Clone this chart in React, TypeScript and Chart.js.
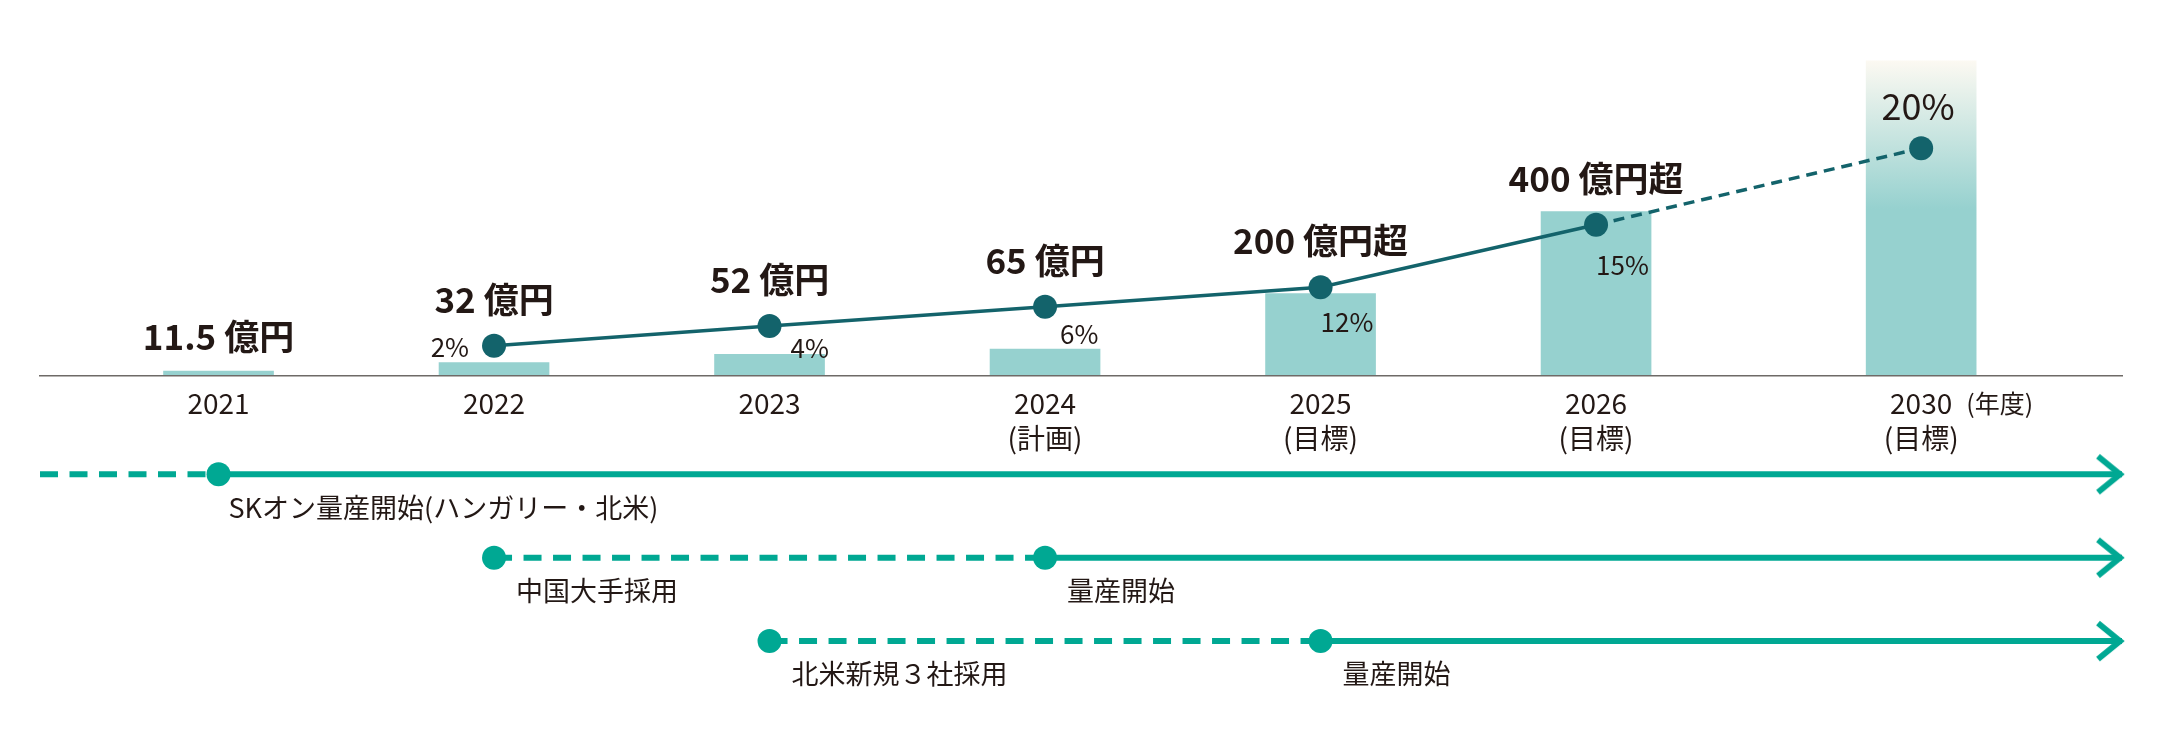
import React, { useEffect, useRef } from 'react';
import { Chart, registerables } from 'chart.js';

Chart.register(...registerables);

// ---------------- data ----------------
const years = [2021, 2022, 2023, 2024, 2025, 2026, 2030];
const yearSubLabels = ['', '', '', '(計画)', '(目標)', '(目標)', '(目標)'];
const yearUnitLabel = '(年度)';

const salesValues = [11.5, 32, 52, 65, 200, 400, 768];
const salesLabels = ['11.5億円', '32億円', '52億円', '65億円', '200億円超', '400億円超', ''];
const salesOpenEnded = [false, false, false, false, false, false, true];

const shareYears = [2022, 2023, 2024, 2025, 2026, 2030];
const shareLabels = ['2%', '4%', '6%', '12%', '15%', '20%'];
// height of the (schematic) share line as drawn, in the value-axis units
const shareLineLevel = [73, 121, 168, 216, 368, 555];
const shareProjected = [false, false, false, false, false, true];

const timelineRows = [1, 2, 3];
const timelineDashFrom: (number | null)[] = [null, 2022, 2023];
const timelineDashLabels = ['', '中国大手採用', '北米新規３社採用'];
const timelineSolidFrom = [2021, 2024, 2025];
const timelineSolidLabels = ['SKオン量産開始(ハンガリー・北米)', '量産開始', '量産開始'];

// ---------------- styles ----------------
const FONT = '"Noto Sans CJK JP", "Noto Sans", sans-serif';
const TEXT = '#231815';
const AXIS = '#6e6a67';
const BAR = '#96d1cf';
const BAR_FADE = '#fcf9f2';
const LINE = '#13636b';
const TL = '#00a893';

// axis with a break after 2026
const BREAK_AFTER = 2026;
const BREAK_SCALE = 0.295;
const slot = (year: number) =>
  year <= BREAK_AFTER ? year - years[0] : BREAK_AFTER - years[0] + (year - BREAK_AFTER) * BREAK_SCALE;
const X_MIN = -0.648;
const X_MAX = 6.909;

const SHARE_LABEL_PLACEMENT = [
  { align: 'right', dx: -25, dy: 1, size: 26 },
  { align: 'left', dx: 21, dy: 22, size: 26 },
  { align: 'left', dx: 15, dy: 27, size: 26 },
  { align: 'left', dx: 0, dy: 35, size: 26 },
  { align: 'left', dx: 0, dy: 40, size: 26 },
  { align: 'center', dx: -3, dy: -42, size: 36 },
];

function makeArrow(): HTMLCanvasElement {
  const c = document.createElement('canvas');
  c.width = 70;
  c.height = 52;
  const g = c.getContext('2d')!;
  g.strokeStyle = TL;
  g.lineWidth = 6;
  g.lineJoin = 'miter';
  g.lineCap = 'butt';
  g.beginPath();
  g.moveTo(33 - 22, 26 - 18);
  g.lineTo(33, 26);
  g.lineTo(33 - 22, 26 + 18);
  g.stroke();
  return c;
}

const annotatePlugin = {
  id: 'annotate',
  afterDatasetsDraw(chart: any) {
    const { ctx } = chart;
    const xs = chart.scales.x;
    const ys = chart.scales.y;
    const yr = chart.scales.yRows;
    const shareMeta = chart.getDatasetMeta(0);
    ctx.save();
    ctx.fillStyle = TEXT;
    ctx.textBaseline = 'middle';

    // sales value labels (number + unit with a small gap)
    ctx.font = `bold 35px ${FONT}`;
    ctx.textAlign = 'left';
    const GAP = 8;
    years.forEach((year, i) => {
      const text = salesLabels[i];
      if (!text) return;
      const m = /^([\d.]+)(.*)$/.exec(text);
      const num = m ? m[1] : text;
      const unit = m ? m[2] : '';
      const wn = ctx.measureText(num).width;
      const wu = ctx.measureText(unit).width;
      const total = wn + (unit ? GAP + wu : 0);
      const px = xs.getPixelForValue(slot(year));
      const si = shareYears.indexOf(year);
      const py = si >= 0 ? shareMeta.data[si].y - 46 : ys.getPixelForValue(salesValues[i]) - 34;
      const x0 = px - total / 2;
      ctx.fillText(num, x0, py);
      if (unit) ctx.fillText(unit, x0 + wn + GAP, py);
    });

    // share labels
    shareLabels.forEach((text, i) => {
      const pt = shareMeta.data[i];
      const p = SHARE_LABEL_PLACEMENT[i];
      ctx.font = `${p.size}px ${FONT}`;
      ctx.textAlign = p.align;
      ctx.fillText(text, pt.x + p.dx, pt.y + p.dy);
    });

    // unit label next to the last year
    ctx.font = `28px ${FONT}`;
    const lastX = xs.getPixelForValue(slot(years[years.length - 1]));
    const w = ctx.measureText(String(years[years.length - 1])).width;
    ctx.font = `25px ${FONT}`;
    ctx.textAlign = 'left';
    ctx.fillText(yearUnitLabel, lastX + w / 2 + 14, ys.getPixelForValue(0) + 28);

    // timeline labels
    ctx.font = `27px ${FONT}`;
    ctx.textAlign = 'left';
    timelineRows.forEach((row, r) => {
      const py = yr.getPixelForValue(row) + 33;
      const df = timelineDashFrom[r];
      if (df != null && timelineDashLabels[r]) {
        ctx.fillText(timelineDashLabels[r], xs.getPixelForValue(slot(df)) + 22, py);
      }
      const off = df == null ? 10 : 22;
      ctx.fillText(timelineSolidLabels[r], xs.getPixelForValue(slot(timelineSolidFrom[r])) + off, py);
    });
    ctx.restore();
  },
};

export default function App() {
  const ref = useRef<HTMLCanvasElement | null>(null);

  useEffect(() => {
    document.body.style.margin = '0';
    const canvas = ref.current;
    if (!canvas) return;
    const arrow = makeArrow();

    const timelineDatasets = timelineRows.map((row, r) => {
      const df = timelineDashFrom[r];
      const startX = df == null ? X_MIN : slot(df);
      return {
        type: 'line' as const,
        yAxisID: 'yRows',
        data: [
          { x: startX, y: row },
          { x: slot(timelineSolidFrom[r]), y: row },
          { x: X_MAX, y: row },
        ],
        borderColor: TL,
        borderWidth: 6,
        pointRadius: [df == null ? 0 : 12, 12, 12],
        pointStyle: ['circle', 'circle', arrow],
        pointBackgroundColor: TL,
        pointBorderWidth: 0,
        segment: {
          borderDash: (c: any) => (c.p0DataIndex === 0 ? [18, 11.5] : undefined),
        },
        clip: false,
        order: 1,
      };
    });

    const chart = new Chart(canvas, {
      data: {
        datasets: [
          {
            type: 'line',
            label: 'share',
            yAxisID: 'y',
            data: shareYears.map((yr, i) => ({ x: slot(yr), y: shareLineLevel[i] })),
            borderColor: LINE,
            borderWidth: 3.5,
            pointRadius: 12,
            pointBackgroundColor: LINE,
            pointBorderWidth: 0,
            segment: {
              borderDash: (c: any) => (shareProjected[c.p1DataIndex] ? [11, 7] : undefined),
            },
            clip: false,
            order: 0,
          },
          {
            type: 'bar',
            label: 'sales',
            yAxisID: 'y',
            data: years.map((yr, i) => ({ x: slot(yr), y: salesValues[i] })),
            barThickness: 110,
            backgroundColor: (c: any) => {
              const i = c.dataIndex;
              if (!salesOpenEnded[i]) return BAR;
              const sc = c.chart.scales.y;
              if (!sc) return BAR;
              const top = sc.getPixelForValue(salesValues[i]);
              const base = sc.getPixelForValue(0);
              const g = c.chart.ctx.createLinearGradient(0, top, 0, base);
              g.addColorStop(0, BAR_FADE);
              g.addColorStop(0.47, BAR);
              g.addColorStop(1, BAR);
              return g;
            },
            order: 2,
          },
          ...timelineDatasets,
        ] as any,
      },
      options: {
        responsive: false,
        animation: false,
        events: [],
        layout: { padding: { top: 19, bottom: 19, left: 40, right: 38 } },
        plugins: { legend: { display: false }, tooltip: { enabled: false } },
        scales: {
          x: {
            type: 'linear',
            min: X_MIN,
            max: X_MAX,
            offset: false,
            position: { y: 0 } as any,
            grid: { display: false, drawTicks: false, offset: false },
            border: { display: true, color: AXIS, width: 1.5, z: 1 },
            afterBuildTicks: (s: any) => {
              s.ticks = years.map((yr) => ({ value: slot(yr) }));
            },
            ticks: {
              autoSkip: false,
              maxRotation: 0,
              minRotation: 0,
              padding: 11,
              color: TEXT,
              font: { family: FONT, size: 28, lineHeight: 1.22 },
              callback: (_v: any, i: number) => {
                const yr = String(years[i]);
                return yearSubLabels[i] ? [yr, yearSubLabels[i]] : yr;
              },
            },
          },
          y: { type: 'linear', display: false, min: -830, max: 870 },
          yRows: { type: 'linear', display: false, reverse: true, min: -4.459, max: 3.898 },
        },
      } as any,
      plugins: [annotatePlugin as any],
    });
    return () => chart.destroy();
  }, []);

  return (
    <div style={{ width: 2160, height: 735 }}>
      <canvas ref={ref} width={2160} height={735} style={{ display: 'block' }} />
    </div>
  );
}
